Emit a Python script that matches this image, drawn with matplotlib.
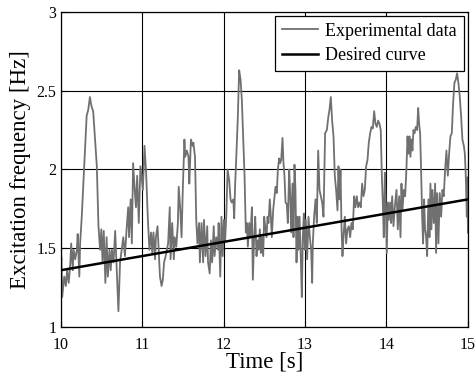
import numpy as np
import matplotlib
matplotlib.use("Agg")
import matplotlib.pyplot as plt

plt.rcParams['font.family'] = ['Liberation Serif', 'DejaVu Serif']

time = [10.00, 10.01, 10.02, 10.045, 10.065, 10.08, 10.10, 10.12, 10.13, 10.15,
        10.16, 10.18, 10.20, 10.21, 10.23, 10.24, 10.26, 10.28, 10.30, 10.32,
        10.34, 10.36, 10.38, 10.40, 10.425, 10.445, 10.465, 10.485, 10.50, 10.515,
        10.53, 10.55, 10.565, 10.58, 10.60, 10.615, 10.63, 10.65, 10.67, 10.69,
        10.71, 10.73, 10.75, 10.77, 10.79, 10.81, 10.83, 10.84, 10.86, 10.875,
        10.89, 10.91, 10.925, 10.94, 10.96, 10.98, 11.01, 11.03, 11.05, 11.07,
        11.09, 11.11, 11.125, 11.14, 11.16, 11.17, 11.19, 11.21, 11.22, 11.24,
        11.255, 11.27, 11.29, 11.305, 11.32, 11.34, 11.35, 11.37, 11.39, 11.40,
        11.42, 11.44, 11.45, 11.47, 11.485, 11.50, 11.52, 11.53, 11.55, 11.57,
        11.58, 11.60, 11.62, 11.63, 11.65, 11.665, 11.68, 11.70, 11.71, 11.73,
        11.75, 11.76, 11.78, 11.80, 11.81, 11.83, 11.845, 11.86, 11.88, 11.89,
        11.91, 11.93, 11.94, 11.96, 11.975, 11.99, 12.005, 12.02, 12.035, 12.05,
        12.07, 12.086, 12.10, 12.12, 12.131, 12.143, 12.16, 12.176, 12.192, 12.209,
        12.225, 12.241, 12.258, 12.274, 12.286, 12.299, 12.315, 12.331, 12.348, 12.36,
        12.376, 12.389, 12.405, 12.417, 12.429, 12.446, 12.458, 12.47, 12.487, 12.499,
        12.511, 12.528, 12.54, 12.552, 12.568, 12.581, 12.593, 12.609, 12.626, 12.638,
        12.654, 12.667, 12.683, 12.695, 12.708, 12.724, 12.736, 12.748, 12.761, 12.777,
        12.789, 12.806, 12.818, 12.83, 12.847, 12.859, 12.871, 12.883, 12.896, 12.908,
        12.92, 12.933, 12.949, 12.961, 12.973, 12.986, 12.998, 13.01, 13.026, 13.043,
        13.059, 13.076, 13.088, 13.096, 13.112, 13.129, 13.145, 13.162, 13.178, 13.194,
        13.211, 13.227, 13.247, 13.268, 13.288, 13.301, 13.317, 13.333, 13.35, 13.366,
        13.382, 13.399, 13.411, 13.423, 13.436, 13.448, 13.46, 13.472, 13.489, 13.505,
        13.521, 13.538, 13.554, 13.57, 13.587, 13.603, 13.619, 13.636, 13.652, 13.669,
        13.685, 13.701, 13.718, 13.734, 13.75, 13.767, 13.783, 13.80, 13.816, 13.832,
        13.849, 13.865, 13.881, 13.898, 13.914, 13.93, 13.943, 13.955, 13.967, 13.98,
        13.992, 14.004, 14.016, 14.029, 14.045, 14.057, 14.07, 14.086, 14.102, 14.123,
        14.139, 14.156, 14.172, 14.184, 14.196, 14.213, 14.229, 14.245, 14.258, 14.27,
        14.282, 14.294, 14.307, 14.319, 14.331, 14.344, 14.36, 14.376, 14.389, 14.401,
        14.413, 14.425, 14.438, 14.45, 14.462, 14.474, 14.487, 14.499, 14.515, 14.528,
        14.54, 14.552, 14.564, 14.581, 14.597, 14.609, 14.622, 14.638, 14.654, 14.671,
        14.687, 14.703, 14.72, 14.736, 14.753, 14.769, 14.785, 14.802, 14.818, 14.834,
        14.851, 14.867, 14.883, 14.90, 14.916, 14.932, 14.95, 14.962, 14.974, 14.986,
        14.995, 15.0]
freq = [1.38, 1.44, 1.19, 1.32, 1.26, 1.36, 1.28, 1.41, 1.53, 1.36,
        1.49, 1.43, 1.49, 1.59, 1.32, 1.53, 1.70, 1.91, 2.12, 2.34,
        2.38, 2.46, 2.40, 2.37, 2.17, 2.02, 1.64, 1.49, 1.62, 1.41,
        1.61, 1.28, 1.57, 1.32, 1.49, 1.36, 1.49, 1.41, 1.61, 1.36,
        1.10, 1.41, 1.49, 1.57, 1.45, 1.62, 1.76, 1.57, 1.81, 1.53,
        2.04, 1.87, 1.76, 1.96, 1.66, 2.02, 1.87, 2.15, 1.98, 1.70,
        1.49, 1.60, 1.47, 1.60, 1.43, 1.57, 1.64, 1.43, 1.32, 1.26,
        1.30, 1.41, 1.45, 1.49, 1.53, 1.76, 1.43, 1.66, 1.43, 1.57,
        1.51, 1.66, 1.89, 1.74, 1.57, 1.87, 2.19, 2.08, 2.12, 2.08,
        1.91, 2.19, 2.15, 2.17, 2.08, 1.68, 1.53, 1.66, 1.41, 1.66,
        1.41, 1.68, 1.45, 1.64, 1.41, 1.34, 1.55, 1.41, 1.64, 1.45,
        1.57, 1.49, 1.66, 1.32, 1.70, 1.45, 1.68, 1.55, 1.72, 2.00,
        1.93, 1.81, 1.79, 1.81, 1.69, 1.91, 2.12, 2.34, 2.63, 2.57,
        2.44, 2.21, 1.96, 1.60, 1.66, 1.51, 1.66, 1.57, 1.76, 1.30,
        1.57, 1.70, 1.45, 1.55, 1.49, 1.62, 1.47, 1.57, 1.45, 1.70,
        1.64, 1.57, 1.70, 1.66, 1.81, 1.70, 1.57, 1.74, 1.83, 1.89,
        1.85, 2.00, 2.07, 2.04, 2.06, 2.20, 2.04, 1.96, 1.79, 1.78,
        1.66, 2.00, 1.85, 1.60, 1.91, 1.57, 2.03, 1.87, 1.41, 1.70,
        1.49, 1.70, 1.43, 1.19, 1.57, 1.72, 1.49, 1.68, 1.43, 1.70,
        1.57, 1.49, 1.28, 1.53, 1.70, 1.81, 1.66, 2.12, 1.87, 1.83,
        1.79, 1.70, 2.23, 2.25, 2.34, 2.38, 2.46, 2.31, 2.21, 1.96,
        1.87, 1.74, 2.02, 1.81, 2.00, 1.64, 1.45, 1.57, 1.70, 1.53,
        1.62, 1.64, 1.57, 1.66, 1.62, 1.83, 1.76, 1.83, 1.76, 1.79,
        1.76, 1.91, 1.83, 1.87, 2.02, 2.06, 2.17, 2.23, 2.27, 2.26,
        2.37, 2.29, 2.27, 2.31, 2.29, 2.25, 1.96, 1.79, 1.57, 1.98,
        1.76, 1.47, 1.79, 1.68, 1.79, 1.66, 1.83, 1.64, 1.76, 1.87,
        1.62, 1.83, 1.57, 1.91, 1.74, 1.87, 1.83, 2.00, 2.21, 2.10,
        2.21, 2.08, 2.19, 2.12, 2.25, 2.23, 2.27, 2.25, 2.39, 2.29,
        2.23, 2.00, 1.70, 1.53, 1.81, 1.62, 1.57, 1.45, 1.81, 1.57,
        1.91, 1.62, 1.87, 1.66, 1.91, 1.47, 1.85, 1.53, 1.85, 1.70,
        1.87, 1.83, 2.00, 2.12, 1.96, 2.10, 2.21, 2.23, 2.42, 2.55,
        2.57, 2.61, 2.55, 2.46, 2.34, 2.19, 2.15, 2.10, 1.95, 1.70,
        1.95, 1.60]

# desired (reference) curve
desired_time = [10.0, 15.0]
desired_freq = [1.36, 1.81]

xticks = [10, 11, 12, 13, 14, 15]
yticks = [1, 1.5, 2, 2.5, 3]
ytick_labels = ['1', '1.5', '2', '2.5', '3']

fig = plt.figure(figsize=(4.77, 3.72), dpi=100)
ax = fig.add_axes([0.127, 0.121, 0.854, 0.847])

ax.plot(time, freq, color='#707070', lw=1.3, label='Experimental data')
ax.plot(desired_time, desired_freq, color='black', lw=1.8, label='Desired curve')

ax.set_xlim(10, 15)
ax.set_ylim(1, 3)
ax.set_xticks(xticks)
ax.set_yticks(yticks)
ax.set_yticklabels(ytick_labels)
ax.grid(True, color='black', lw=0.8)
ax.tick_params(direction='in', labelsize=11.5, length=4)
ax.tick_params(axis='x', pad=7)
ax.tick_params(axis='y', pad=3)
for s in ax.spines.values():
    s.set_linewidth(0.9)

ax.set_xlabel('Time [s]', fontsize=16.5, labelpad=-1)
ax.set_ylabel('Excitation frequency [Hz]', fontsize=16.5, labelpad=4)

leg = ax.legend(loc='upper right', fontsize=13, handlelength=2.0, fancybox=False,
                framealpha=1, edgecolor='black', borderpad=0.4, labelspacing=0.4,
                handletextpad=0.4, borderaxespad=0.2)
leg.get_frame().set_linewidth(0.9)

fig.savefig('out.png', dpi=100)
